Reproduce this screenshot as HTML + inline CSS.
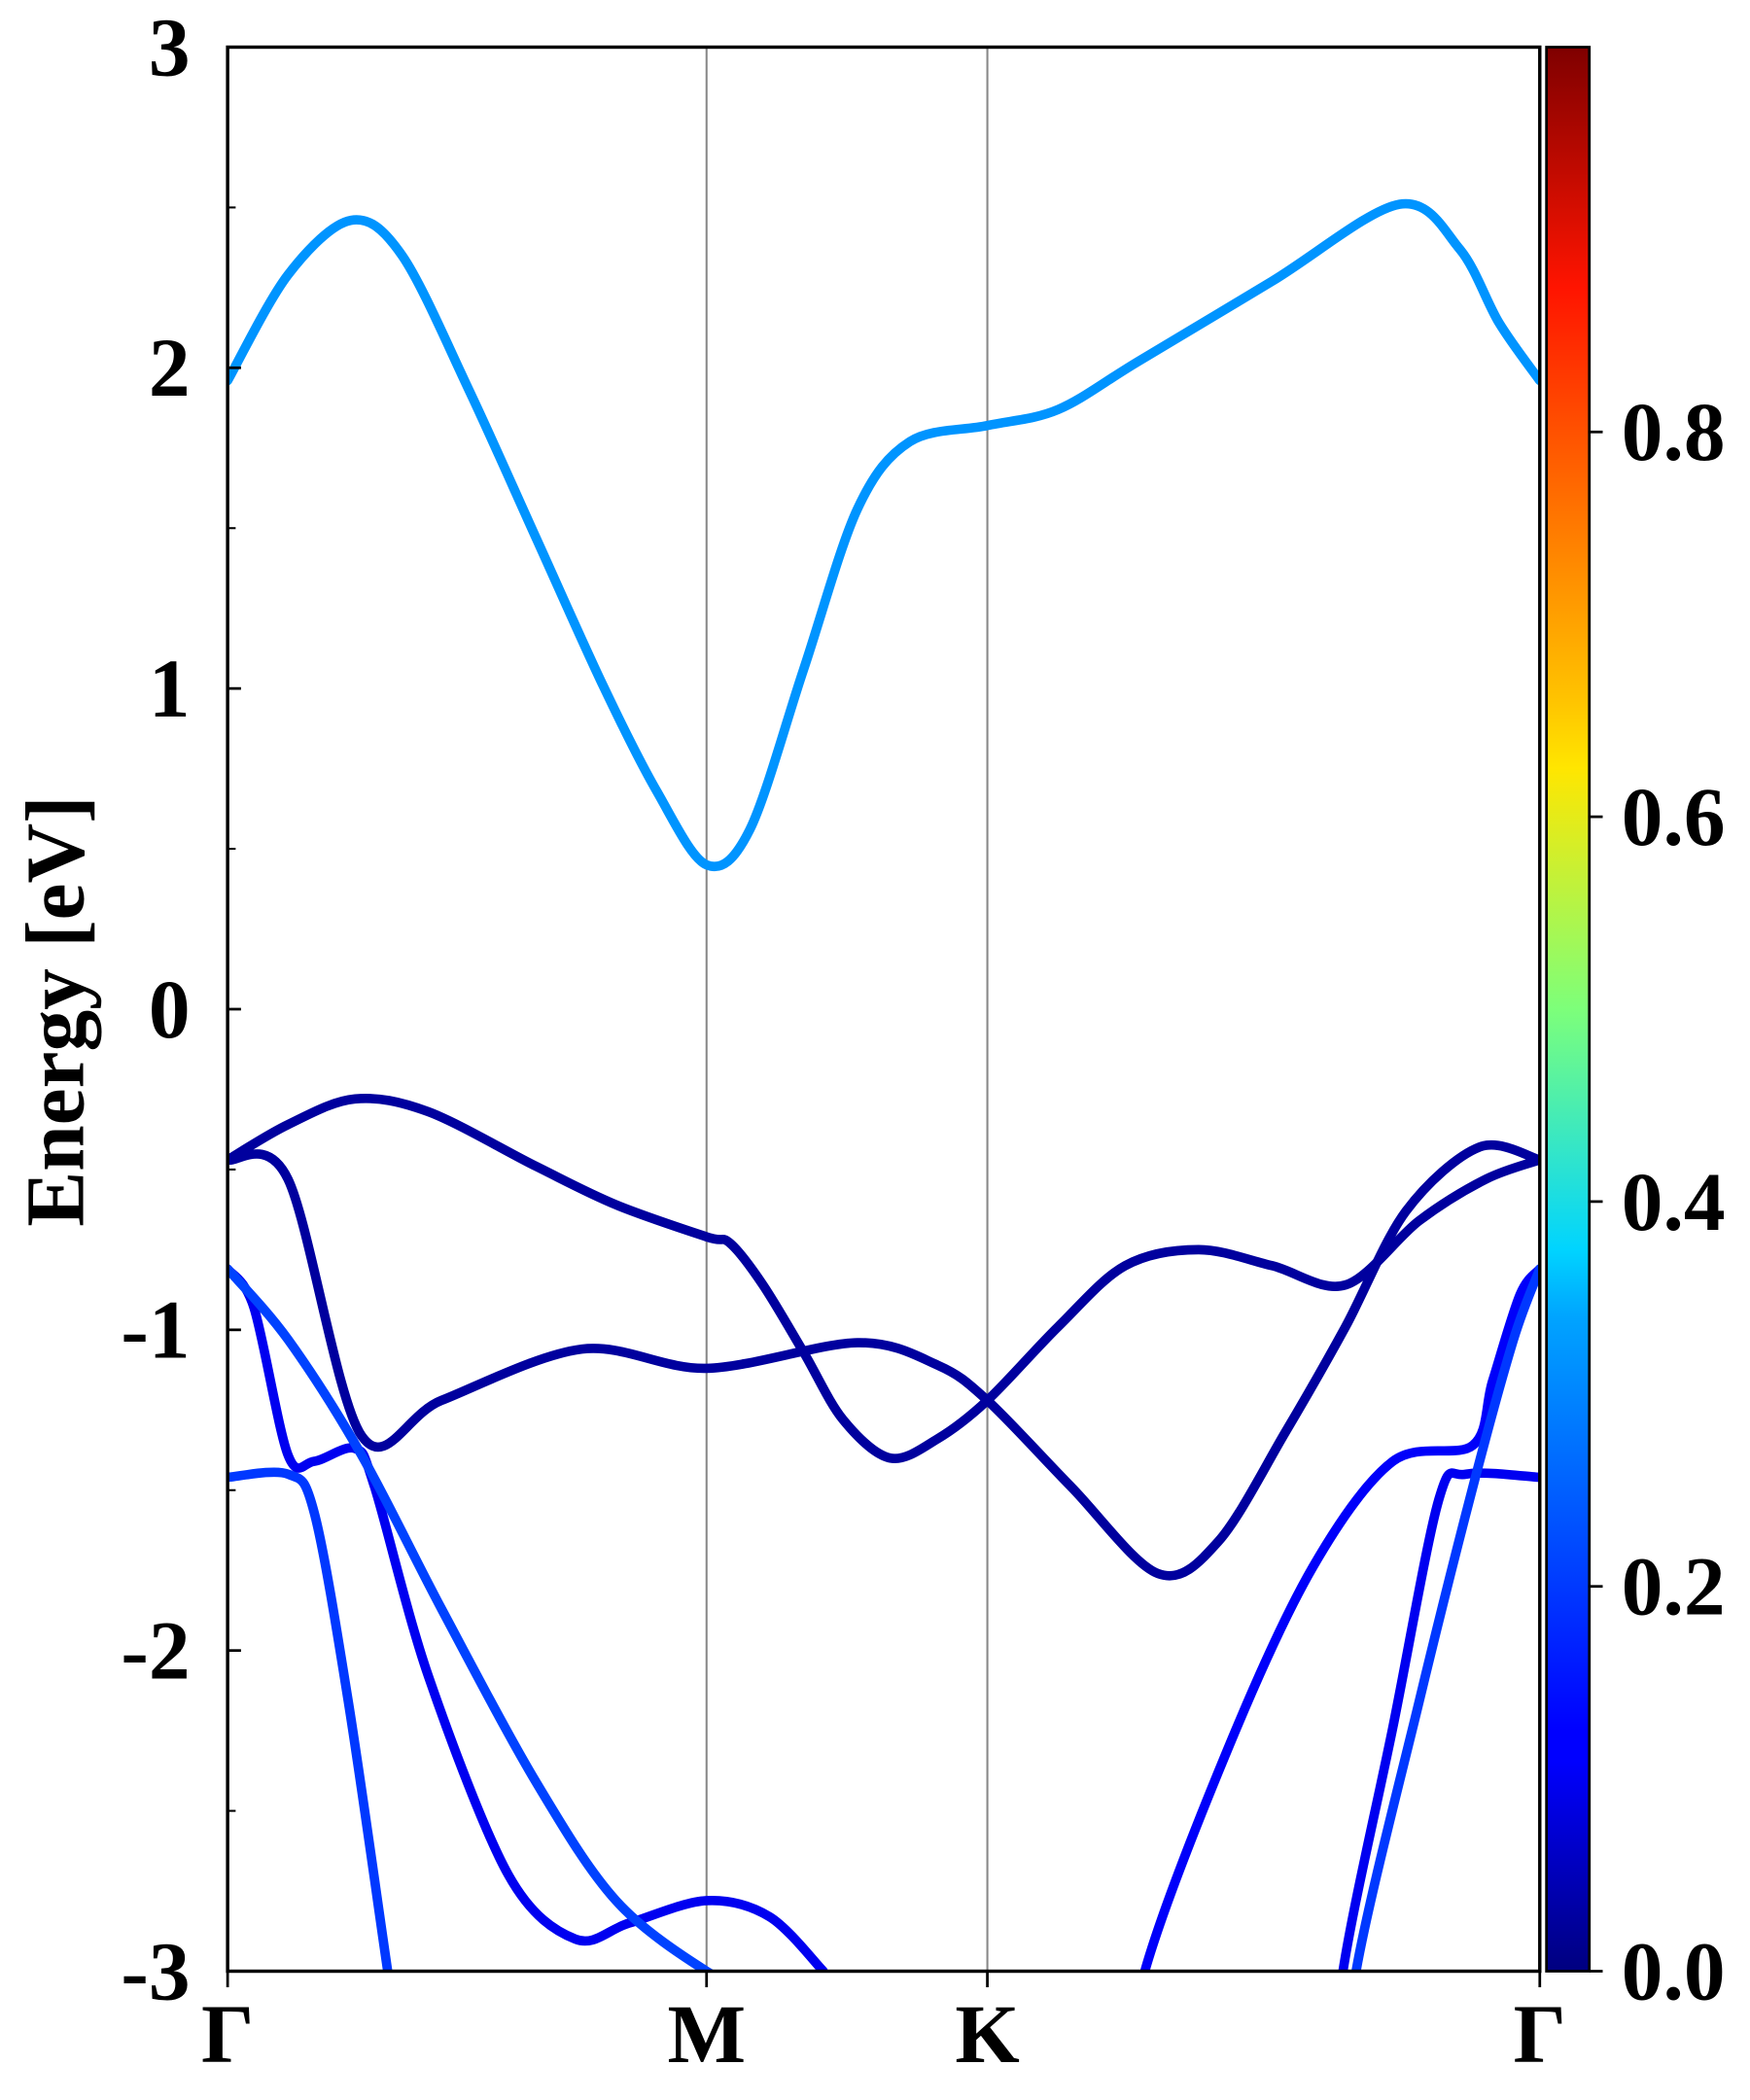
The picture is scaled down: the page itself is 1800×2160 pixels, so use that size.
<!DOCTYPE html>
<html><head><meta charset="utf-8"><style>
html,body{margin:0;padding:0;background:#fff}
svg{display:block}
text{font-family:"Liberation Serif",serif;font-weight:bold;fill:#000}
</style></head><body>
<svg id="chart" width="1800" height="2160" viewBox="0 0 1307 1568" xmlns="http://www.w3.org/2000/svg">
<defs>
<clipPath id="plotclip"><rect x="170" y="35" width="980" height="1437"/></clipPath>
<linearGradient id="jet" x1="0" y1="1" x2="0" y2="0">
<stop offset="0" stop-color="#00007f"/><stop offset="0.11" stop-color="#0000ff"/>
<stop offset="0.125" stop-color="#0000ff"/><stop offset="0.34" stop-color="#00a4ff"/>
<stop offset="0.375" stop-color="#00d4ff"/><stop offset="0.5" stop-color="#7dff7a"/>
<stop offset="0.625" stop-color="#ffe600"/><stop offset="0.66" stop-color="#ffc400"/>
<stop offset="0.875" stop-color="#ff1400"/><stop offset="1" stop-color="#7f0000"/>
</linearGradient>
</defs>
<g id="bands" clip-path="url(#plotclip)"></g>
<g id="axes"></g>
</svg>
<script>
// high-symmetry points (fraction of path)
const kLabels = ["Γ","M","K","Γ"];
const kTicks = [0, 0.365, 0.579, 1];
const yTicks = [3,2,1,0,-1,-2,-3];
const yTickLabels = ["3","2","1","0","-1","-2","-3"];
const cbTicks = [0.0,0.2,0.4,0.6,0.8];
const cbTickLabels = ["0.0","0.2","0.4","0.6","0.8"];
// bands: k (path fraction), E (eV), weight (colour value)
const band0K = [0,0.046,0.094,0.133,0.184,0.235,0.286,0.327,0.365,0.398,0.439,0.480,0.520,0.579,0.633,0.694,0.796,0.893,0.939,0.969,1];
const band0E = [1.96,2.29,2.46,2.35,1.93,1.47,1.01,0.68,0.45,0.56,1.06,1.56,1.77,1.82,1.87,2.02,2.27,2.51,2.37,2.14,1.96];
const band1K = [0,0.046,0.097,0.153,0.235,0.296,0.365,0.383,0.408,0.439,0.469,0.505,0.541,0.579,0.633,0.684,0.740,0.796,0.852,0.908,0.959,1];
const band1E = [-0.47,-0.36,-0.28,-0.32,-0.49,-0.61,-0.71,-0.73,-0.86,-1.07,-1.28,-1.40,-1.34,-1.22,-0.99,-0.80,-0.75,-0.80,-0.86,-0.66,-0.53,-0.47];
const band2K = [0,0.046,0.102,0.163,0.270,0.365,0.480,0.541,0.579,0.643,0.709,0.755,0.806,0.852,0.898,0.954,1];
const band2E = [-0.47,-0.53,-1.33,-1.22,-1.06,-1.12,-1.04,-1.11,-1.22,-1.49,-1.76,-1.66,-1.32,-0.99,-0.63,-0.43,-0.47];
const band3K = [0,0.020,0.046,0.066,0.097,0.112,0.153,0.214,0.265,0.306,0.365,0.413,0.454];
const band3E = [-0.81,-0.93,-1.39,-1.41,-1.37,-1.49,-2.08,-2.70,-2.90,-2.85,-2.78,-2.83,-3.0];
const band4K = [0,0.046,0.102,0.163,0.235,0.296,0.365,0.40];
const band4E = [-0.81,-1.03,-1.39,-1.87,-2.41,-2.78,-3.0,-3.05];
const band5K = [0,0.046,0.066,0.092,0.122,0.14];
const band5E = [-1.46,-1.45,-1.57,-2.16,-3.0,-3.5];
const band6K = [0.68,0.699,0.765,0.827,0.888,0.949,0.964,0.985,1];
const band6E = [-3.5,-3.0,-2.28,-1.74,-1.41,-1.36,-1.16,-0.89,-0.81];
const band7K = [0.84,0.850,0.888,0.923,0.944,1];
const band7E = [-3.5,-3.0,-2.24,-1.53,-1.45,-1.46];
const band8K = [0.85,0.860,0.908,0.949,0.980,1];
const band8E = [-3.5,-3.0,-2.16,-1.49,-1.03,-0.81];
const bandWeights = [0.27,0.03,0.03,0.11,0.19,0.18,0.12,0.11,0.18];

const X0=170,X1=1150,Y0=35,Y1=1472;
const xs = k => X0 + k*(X1-X0);
const ys = e => Y1 - (e+3)/6*(Y1-Y0);
function jet(v){
  const r=Math.max(0,Math.min(1,1.5-Math.abs(4*v-3)));
  const g=Math.max(0,Math.min(1,1.5-Math.abs(4*v-2)));
  const b=Math.max(0,Math.min(1,1.5-Math.abs(4*v-1)));
  return `rgb(${Math.round(r*255)},${Math.round(g*255)},${Math.round(b*255)})`;
}
function smoothPath(K,E){
  const p=K.map((k,i)=>[xs(k),ys(E[i])]);
  let d=`M${p[0][0]},${p[0][1]}`;
  for(let i=0;i<p.length-1;i++){
    const a=p[Math.max(0,i-1)],b=p[i],c=p[i+1],e=p[Math.min(p.length-1,i+2)];
    const t=0.16;
    const c1=[b[0]+(c[0]-a[0])*t,b[1]+(c[1]-a[1])*t];
    const c2=[c[0]-(e[0]-b[0])*t,c[1]-(e[1]-b[1])*t];
    d+=` C${c1[0]},${c1[1]} ${c2[0]},${c2[1]} ${c[0]},${c[1]}`;
  }
  return d;
}
const NS="http://www.w3.org/2000/svg";
const bandsG=document.getElementById('bands');
const axesG=document.getElementById('axes');
[1,2].forEach(i=>{
  const l=document.createElementNS(NS,'line');
  l.setAttribute('x1',xs(kTicks[i]));l.setAttribute('x2',xs(kTicks[i]));
  l.setAttribute('y1',Y0);l.setAttribute('y2',Y1);
  l.setAttribute('stroke','#888');l.setAttribute('stroke-width','1.5');
  
  
  bandsG.appendChild(l);
});
const allBands=[[band0K,band0E],[band1K,band1E],[band2K,band2E],[band3K,band3E],[band4K,band4E],[band5K,band5E],[band6K,band6E],[band7K,band7E],[band8K,band8E]];
allBands.forEach((b,i)=>{
  const p=document.createElementNS(NS,'path');
  p.setAttribute('d',smoothPath(b[0],b[1]));
  p.setAttribute('fill','none');
  p.setAttribute('stroke',jet(bandWeights[i]));
  p.setAttribute('stroke-width','7');
  p.setAttribute('stroke-linecap','round');
  
  
  bandsG.appendChild(p);
});
function add(tag,attrs,parent,text){
  const e=document.createElementNS(NS,tag);
  for(const k in attrs)e.setAttribute(k,attrs[k]);
  if(text!==undefined)e.textContent=text;
  (parent||axesG).appendChild(e);return e;
}
const frame=add('rect',{x:X0,y:Y0,width:X1-X0,height:Y1-Y0,fill:'none',stroke:'#000','stroke-width':2.5});


yTicks.forEach((v,i)=>{
  const t=add('line',{x1:X0,x2:X0+10,y1:ys(v),y2:ys(v),stroke:'#000','stroke-width':2});
  
  
  const lb=add('text',{x:X0-28,y:ys(v)+21,'text-anchor':'end','font-size':62},axesG,yTickLabels[i]);
  
  
  if(i<yTicks.length-1){
    const m=add('line',{x1:X0,x2:X0+6,y1:ys(v-0.5),y2:ys(v-0.5),stroke:'#000','stroke-width':1.5});
    
    
  }
});
kTicks.forEach((k,i)=>{
  const t=add('line',{x1:xs(k),x2:xs(k),y1:Y1,y2:Y1+12,stroke:'#000','stroke-width':2});
  
  
  const lb=add('text',{x:xs(k),y:Y1+68,'text-anchor':'middle','font-size':62},axesG,kLabels[i]);
  
  
});
const yt=add('text',{x:0,y:0,transform:`translate(62,755) rotate(-90)`,'text-anchor':'middle','font-size':62},axesG,'Energy [eV]');


const CX=1155,CW=32;
const cb=add('rect',{x:CX,y:Y0,width:CW,height:Y1-Y0,fill:'url(#jet)',stroke:'#000','stroke-width':2});


const cy=v=>Y1-v*(Y1-Y0);
cbTicks.forEach((v,i)=>{
  const t=add('line',{x1:CX+CW,x2:CX+CW+10,y1:cy(v),y2:cy(v),stroke:'#000','stroke-width':2});
  
  
  const lb=add('text',{x:CX+CW+24,y:cy(v)+21,'font-size':62},axesG,cbTickLabels[i]);
  
  
});
</script>
</body></html>
